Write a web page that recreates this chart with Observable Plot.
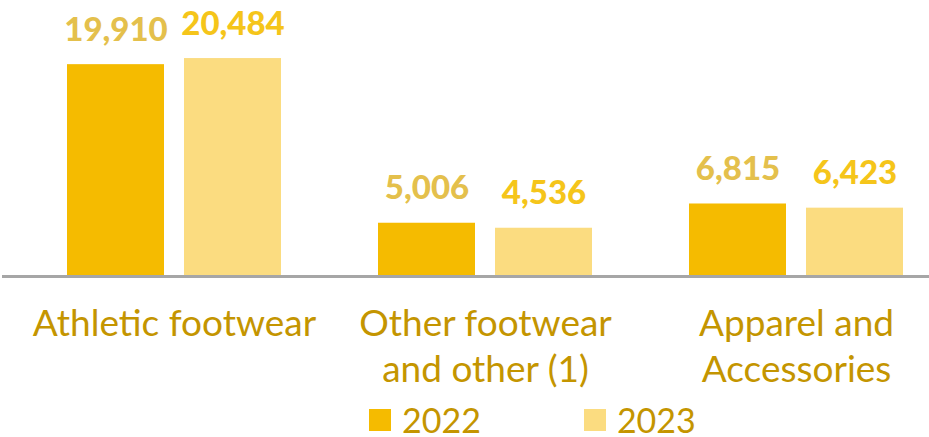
<!DOCTYPE html>
<html>
<head>
<meta charset="utf-8">
<script src="https://cdn.jsdelivr.net/npm/d3@7"></script>
<script src="https://cdn.jsdelivr.net/npm/@observablehq/plot@0.6"></script>
<style>
  html, body { margin: 0; padding: 0; background: #fff; }
  body { width: 929px; height: 437px; overflow: hidden; font-family: Lato, sans-serif; }
  #legend { display: flex; align-items: center; height: 30px; padding-left: 369px; color: #c49500; font-size: 34px; font-family: Lato, sans-serif; }
  .item { display: flex; align-items: center; }
  .item span { line-height: 30px; }
  .sw { width: 22px; height: 22px; margin-right: 11px; }
</style>
</head>
<body>
<div id="chart"></div>
<div id="legend"></div>
<script>
const categories = ["Athletic footwear", "Other footwear and other (1)", "Apparel and Accessories"];
const categoryLabels = ["Athletic footwear", "Other footwear\nand other (1)", "Apparel and\nAccessories"];
const years = ["2022", "2023"];
const values2022 = [19910, 5006, 6815];
const values2023 = [20484, 4536, 6423];

const barColors = ["#f5bb00", "#fbdc80"];
const valueColors = ["#e4c04c", "#f5c51a"];
const textColor = "#c49500";

const data = categories.flatMap((c, i) => [
  {category: c, year: years[0], value: values2022[i]},
  {category: c, year: years[1], value: values2023[i]}
]);
const fmt = d3.format(",");

const chart = Plot.plot({
  width: 929,
  height: 405,
  marginTop: 0,
  marginBottom: 129,
  marginLeft: 18.5,
  marginRight: -22.5,
  style: {fontFamily: "Lato, sans-serif", background: "#fff", overflow: "visible"},
  fx: {domain: categories, padding: 0, round: false, label: null},
  x: {domain: years, paddingInner: 0.171, paddingOuter: 0.4145, round: false, axis: null},
  y: {domain: [0, 25940], axis: null},
  color: {domain: years, range: barColors},
  marks: [
    Plot.barY(data, {fx: "category", x: "year", y: "value", fill: "year"}),
    Plot.ruleY([0], {stroke: "#a6a6a6", strokeWidth: 3, insetLeft: -17, shapeRendering: "crispEdges"}),
    Plot.text(data, {
      fx: "category", x: "year", y: "value",
      text: d => fmt(d.value),
      lineAnchor: "bottom", dy: -24,
      fill: d => valueColors[years.indexOf(d.year)],
      fontWeight: 900, fontSize: 33
    }),
    Plot.axisFx({
      anchor: "bottom", tickSize: 0, tickPadding: 27,
      tickFormat: c => categoryLabels[categories.indexOf(c)],
      fontSize: 37, lineHeight: 1.243, fill: textColor, label: null
    })
  ]
});
document.getElementById("chart").appendChild(chart);

const legend = document.getElementById("legend");
years.forEach((y, i) => {
  const item = document.createElement("div");
  item.className = "item";
  if (i > 0) item.style.marginLeft = "103px";
  const sw = document.createElement("div");
  sw.className = "sw";
  sw.style.background = barColors[i];
  const t = document.createElement("span");
  t.textContent = y;
  item.appendChild(sw);
  item.appendChild(t);
  legend.appendChild(item);
});
</script>
</body>
</html>
